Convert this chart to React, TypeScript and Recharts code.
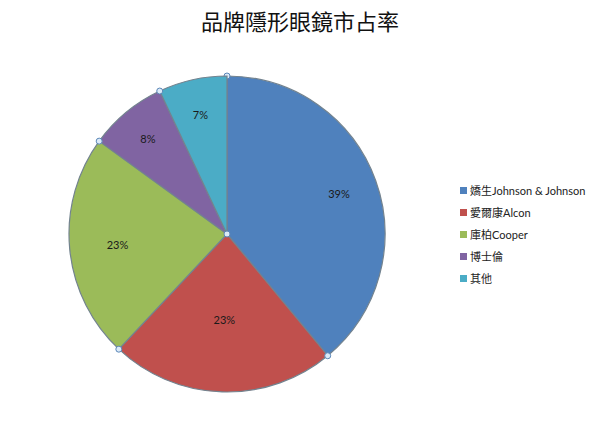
import { Cell, Legend, Pie, PieChart, Sector } from "recharts";

const brands = ["嬌生Johnson & Johnson", "愛爾康Alcon", "庫柏Cooper", "博士倫", "其他"];
const shares = [39, 23, 23, 8, 7];
const colors = ["#4F81BD", "#C0504D", "#9BBB59", "#8064A2", "#4BACC6"];

const data = brands.map((name, i) => ({ name, value: shares[i] }));

const RAD = Math.PI / 180;
// excel's "best fit" puts each label at its own depth inside the slice
const labelDepth = [0.753, 0.544, 0.696, 0.785, 0.772];

// sector plus the little selection handle at its start edge
const renderSlice = (props: any) => {
    const { cx, cy, outerRadius, startAngle, index } = props;
    const hx = cx + outerRadius * Math.cos(-startAngle * RAD);
    const hy = cy + outerRadius * Math.sin(-startAngle * RAD);
    return (
        <g>
            <Sector {...props} />
            <circle cx={hx} cy={hy} r={3} fill="#dbe9f7" stroke="#5b87b8" strokeWidth={1} />
            {index === data.length - 1 && (
                <circle cx={cx} cy={cy} r={3} fill="#dbe9f7" stroke="#5b87b8" strokeWidth={1} />
            )}
        </g>
    );
};

const renderLabel = (props: any) => {
    const { cx, cy, midAngle, outerRadius, value, index } = props;
    const r = outerRadius * (labelDepth[index] ?? 0.71);
    const x = cx + r * Math.cos(-midAngle * RAD);
    const y = cy + r * Math.sin(-midAngle * RAD);
    return (
        <text
            x={x}
            y={y}
            textAnchor="middle"
            dominantBaseline="central"
            fontSize={11}
            fontFamily="Lato, 'Noto Sans CJK TC', sans-serif"
            fill="#1a1a1a"
        >
            {`${value}%`}
        </text>
    );
};

const renderLegend = () => (
    <div style={{ fontSize: 11, color: "#222", fontFamily: "Lato, 'Noto Sans CJK TC', sans-serif" }}>
        {brands.map((b, i) => (
            <div key={b} style={{ display: "flex", alignItems: "center", height: 22 }}>
                <span style={{ width: 7, height: 7, background: colors[i], marginRight: 3, display: "inline-block" }} />
                {b}
            </div>
        ))}
    </div>
);

export default function App() {
    return (
        <div style={{ width: 600, height: 429, background: "#fff", position: "relative", fontFamily: "'Noto Sans CJK TC', 'DejaVu Sans', sans-serif" }}>
            <style>{`body{margin:0}`}</style>
            <div style={{ position: "absolute", top: 4, left: 0, width: 600, textAlign: "center", fontSize: 22, color: "#111" }}>
                品牌隱形眼鏡市占率
            </div>
            <PieChart width={600} height={429} margin={{ top: 0, right: 0, bottom: 0, left: 0 }}>
                <Pie
                    data={data}
                    dataKey="value"
                    nameKey="name"
                    cx={227}
                    cy={234}
                    outerRadius={158}
                    startAngle={90}
                    endAngle={-270}
                    stroke="#73838f"
                    strokeWidth={1.2}
                    label={renderLabel}
                    labelLine={false}
                    shape={renderSlice}
                    isAnimationActive={false}
                >
                    {data.map((d, i) => (
                        <Cell key={d.name} fill={colors[i]} />
                    ))}
                </Pie>
                <Legend
                    layout="vertical"
                    align="right"
                    verticalAlign="top"
                    content={renderLegend}
                    wrapperStyle={{ left: 460, top: 179, width: 140 }}
                />
            </PieChart>
        </div>
    );
}
